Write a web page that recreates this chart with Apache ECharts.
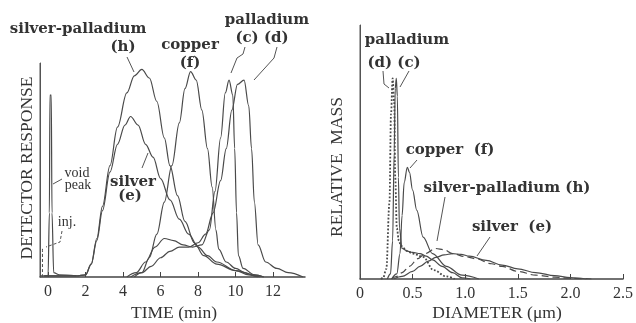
<!DOCTYPE html>
<html>
<head>
<meta charset="utf-8">
<script src="https://cdn.jsdelivr.net/npm/echarts@6/dist/echarts.min.js"></script>
<style>
  html, body { margin: 0; padding: 0; background: #fff; }
  #chart { width: 636px; height: 323px; }
</style>
</head>
<body>
<div id="chart"></div>
<script>
// left panel: detector response vs time (min)
var timeMin = -0.43;
var timeTicks = [0, 2, 4, 6, 8, 10, 12];
var voidTime = [-0.43, 0.0, 0.07, 0.1, 0.17, 0.21, 0.3, 0.6, 1.5];
var voidResp = [0.005, 0.005, 0.3, 0.85, 0.85, 0.3, 0.02, 0.01, 0.005];
var injTime = [-0.3, -0.3];
var injResp = [0.0, 0.14];
var hTime = [-0.2, 1.5, 2.0, 2.3, 2.6, 2.9, 3.3, 3.7, 4.2, 4.6, 5.0, 5.4, 5.8, 6.2, 6.5, 6.9, 7.3, 7.8, 8.3, 9.0, 10.0, 11.0, 11.5];
var hResp = [0.005, 0.005, 0.01, 0.06, 0.18, 0.33, 0.52, 0.7, 0.86, 0.94, 0.97, 0.93, 0.82, 0.65, 0.52, 0.38, 0.26, 0.16, 0.1, 0.06, 0.03, 0.01, 0.0];
var eTime = [-0.2, 1.5, 2.0, 2.3, 2.6, 2.9, 3.3, 3.7, 4.1, 4.4, 4.8, 5.2, 5.6, 6.0, 6.5, 7.0, 7.5, 8.0, 8.5, 9.0, 10.0, 10.7, 11.2];
var eResp = [0.005, 0.005, 0.01, 0.06, 0.17, 0.31, 0.49, 0.62, 0.71, 0.75, 0.71, 0.62, 0.56, 0.46, 0.36, 0.27, 0.2, 0.14, 0.1, 0.07, 0.03, 0.01, 0.0];
var fTime = [4.6, 5.0, 5.4, 5.8, 6.2, 6.6, 7.0, 7.3, 7.6, 7.9, 8.2, 8.5, 8.75, 8.95, 9.1, 9.5, 10.0, 10.5, 11.0, 11.3];
var fResp = [0.0, 0.02, 0.09, 0.2, 0.35, 0.52, 0.72, 0.88, 0.96, 0.92, 0.78, 0.6, 0.42, 0.22, 0.13, 0.07, 0.04, 0.02, 0.005, 0.0];
var cTime = [4.2, 4.7, 5.2, 5.7, 6.2, 6.7, 7.2, 7.7, 8.2, 8.6, 8.9, 9.2, 9.45, 9.65, 9.85, 9.95, 10.05, 10.15, 10.4, 11.0, 11.5];
var cResp = [0.0, 0.02, 0.07, 0.14, 0.18, 0.17, 0.15, 0.14, 0.15, 0.22, 0.4, 0.65, 0.86, 0.92, 0.85, 0.6, 0.3, 0.1, 0.04, 0.01, 0.0];
var dTime = [4.4, 5.0, 5.5, 6.0, 6.5, 7.0, 7.5, 8.0, 8.4, 8.8, 9.2, 9.5, 9.8, 10.1, 10.45, 10.7, 10.85, 11.0, 11.2, 11.6, 12.2, 12.8, 13.6];
var dResp = [0.0, 0.02, 0.05, 0.09, 0.12, 0.14, 0.14, 0.16, 0.2, 0.3, 0.45, 0.6, 0.78, 0.9, 0.92, 0.8, 0.6, 0.35, 0.15, 0.07, 0.04, 0.02, 0.0];

// right panel: relative mass vs diameter (um)
var diamMin = 0;
var diamTicks = [0, 0.5, 1.0, 1.5, 2.0, 2.5];
var pdDDiam = [0.2, 0.22, 0.25, 0.28, 0.295, 0.31, 0.325, 0.335, 0.35, 0.37, 0.39, 0.45, 0.5, 0.6, 0.7, 0.82, 0.9];
var pdDMass = [0.0, 0.005, 0.04, 0.3, 0.65, 0.79, 0.7, 0.4, 0.2, 0.15, 0.13, 0.11, 0.1, 0.087, 0.035, 0.01, 0.0];
var pdCDiam = [0.26, 0.29, 0.31, 0.325, 0.335, 0.345, 0.355, 0.365, 0.375, 0.4, 0.45, 0.5, 0.57, 0.63, 0.69, 0.78, 0.88, 0.97, 1.05];
var pdCMass = [0.0, 0.02, 0.15, 0.5, 0.75, 0.79, 0.72, 0.4, 0.2, 0.12, 0.11, 0.105, 0.1, 0.09, 0.075, 0.05, 0.025, 0.005, 0.0];
var cuDiam = [0.3, 0.35, 0.38, 0.4, 0.42, 0.45, 0.47, 0.5, 0.54, 0.6, 0.69, 0.82, 0.97, 1.13];
var cuMass = [0.0, 0.02, 0.1, 0.25, 0.38, 0.44, 0.42, 0.35, 0.27, 0.165, 0.1, 0.05, 0.015, 0.0];
var agPdDiam = [0.3, 0.35, 0.4, 0.47, 0.55, 0.62, 0.72, 0.8, 0.88, 1.0, 1.1, 1.25, 1.35, 1.5, 1.67, 1.85, 2.0, 2.2];
var agPdMass = [0.0, 0.01, 0.025, 0.05, 0.08, 0.1, 0.12, 0.115, 0.1, 0.088, 0.08, 0.06, 0.05, 0.03, 0.015, 0.007, 0.003, 0.0];
var agDiam = [0.32, 0.4, 0.5, 0.57, 0.65, 0.72, 0.8, 0.88, 0.96, 1.04, 1.2, 1.35, 1.5, 1.67, 1.85, 2.0, 2.15];
var agMass = [0.0, 0.01, 0.03, 0.05, 0.07, 0.085, 0.095, 0.1, 0.097, 0.09, 0.073, 0.055, 0.04, 0.025, 0.013, 0.006, 0.0];

var ink = '#4a4a4a';
var txt = '#333';
var serif = 'Liberation Serif, DejaVu Serif, serif';
var boldSerif = 'DejaVu Serif, Liberation Serif, serif';

function zip(xs, ys) {
    var out = [];
    for (var i = 0; i < xs.length; i++) out.push([xs[i], ys[i]]);
    return out;
}

function curve(name, xi, xs, ys, dash, width) {
    return {
        name: name,
        type: 'line',
        xAxisIndex: xi,
        yAxisIndex: xi,
        data: zip(xs, ys),
        showSymbol: false,
        smooth: 0.35,
        smoothMonotone: 'x',
        silent: true,
        lineStyle: { color: ink, width: width || 1.2, type: dash || 'solid' }
    };
}

// vertical axis line as a plain two-point line at the start of the x range
function yAxisLine(xi, xAt) {
    return {
        type: 'line', xAxisIndex: xi, yAxisIndex: xi,
        data: [[xAt, 0], [xAt, 1]],
        showSymbol: false, silent: true, clip: false,
        lineStyle: { color: '#555', width: 1 }
    };
}

function label(text, x, y, bold, size) {
    return {
        type: 'text', x: x, y: y,
        style: {
            text: text, fill: txt, textAlign: 'center', textVerticalAlign: 'middle',
            font: bold ? ('bold ' + (size || 15) + 'px ' + boldSerif) : ((size || 14) + 'px ' + serif)
        }
    };
}

function pointer(points, dash) {
    return {
        type: 'polyline',
        shape: { points: points },
        style: { stroke: '#555', lineWidth: 1, fill: null, lineDash: dash || null }
    };
}

function xAxis(grid, min, max, ticks, fmt) {
    return {
        gridIndex: grid, type: 'value', min: min, max: max,
        splitLine: { show: false },
        axisLine: { show: true, onZero: false, lineStyle: { color: '#444', width: 1.5 } },
        axisTick: { show: true, inside: true, length: 5, customValues: ticks, lineStyle: { color: '#444' } },
        axisLabel: { color: txt, fontFamily: serif, fontSize: 16, margin: 7, customValues: ticks, formatter: fmt }
    };
}

function yAxis(grid) {
    return {
        gridIndex: grid, type: 'value', min: 0, max: 1, position: 'left',
        splitLine: { show: false },
        axisTick: { show: false },
        axisLabel: { show: false },
        axisLine: { show: true, onZero: false, lineStyle: { color: '#555', width: 1 } }
    };
}

var chart = echarts.init(document.getElementById('chart'));
chart.setOption({
    animation: false,
    backgroundColor: '#fff',
    grid: [
        { left: 40, top: 63, width: 265, height: 214 },
        { left: 360, top: 25, width: 265, height: 254 }
    ],
    xAxis: [
        xAxis(0, timeMin, 13.7, timeTicks),
        xAxis(1, diamMin, 2.5, diamTicks, function (v) { return v === 0 ? '0' : v.toFixed(1); })
    ],
    yAxis: [yAxis(0), yAxis(1)],
    series: [
        yAxisLine(0, timeMin),
        yAxisLine(1, diamMin),
        curve('void', 0, voidTime, voidResp),
        curve('inj', 0, injTime, injResp, [3, 2], 1),
        curve('silver-palladium (h)', 0, hTime, hResp),
        curve('silver (e)', 0, eTime, eResp),
        curve('copper (f)', 0, fTime, fResp),
        curve('palladium (c)', 0, cTime, cResp),
        curve('palladium (d)', 0, dTime, dResp),
        curve('palladium (d)', 1, pdDDiam, pdDMass, 'dotted', 1.8),
        curve('palladium (c)', 1, pdCDiam, pdCMass),
        curve('copper (f)', 1, cuDiam, cuMass),
        curve('silver-palladium (h)', 1, agPdDiam, agPdMass, [7, 4]),
        curve('silver (e)', 1, agDiam, agMass)
    ],
    graphic: [
        // axis titles
        { type: 'text', x: 27, y: 168, rotation: Math.PI / 2,
          style: { text: 'DETECTOR RESPONSE', fill: txt, textAlign: 'center', textVerticalAlign: 'middle', font: '17.5px ' + serif } },
        { type: 'text', x: 337, y: 167, rotation: Math.PI / 2,
          style: { text: 'RELATIVE  MASS', fill: txt, textAlign: 'center', textVerticalAlign: 'middle', font: '17.5px ' + serif } },
        label('TIME (min)', 174, 313, false, 17.5),
        label('DIAMETER (\u03bcm)', 497, 313, false, 17.5),
        // left panel labels
        label('silver-palladium', 78, 29, true),
        label('(h)', 123, 47, true),
        label('copper', 190, 45, true),
        label('(f)', 190, 63, true),
        label('palladium', 267, 20, true),
        label('(c) (d)', 262, 38, true),
        label('silver', 133, 182, true),
        label('(e)', 130, 196, true),
        label('void', 77, 173, false, 14),
        label('peak', 78, 185, false, 14),
        label('inj.', 67, 222, false, 14),
        pointer([[127, 57], [134, 72]]),
        pointer([[245, 47], [243, 54], [237, 58], [231, 73]]),
        pointer([[277, 47], [274, 58], [254, 80]]),
        pointer([[148, 153], [142, 168]]),
        pointer([[62, 179], [53, 184]]),
        pointer([[62, 231], [60, 242], [46, 247]], [3, 2]),
        // right panel labels
        label('palladium', 407, 40, true),
        label('(d) (c)', 394, 63, true),
        label('copper  (f)', 450, 150, true),
        label('silver-palladium (h)', 507, 188, true),
        label('silver  (e)', 512, 227, true),
        pointer([[383, 71], [384, 84], [389, 88]]),
        pointer([[409, 71], [400, 87]]),
        pointer([[417, 160], [410, 168]]),
        pointer([[445, 197], [437, 241]]),
        pointer([[490, 237], [477, 256]])
    ]
});
</script>
</body>
</html>
